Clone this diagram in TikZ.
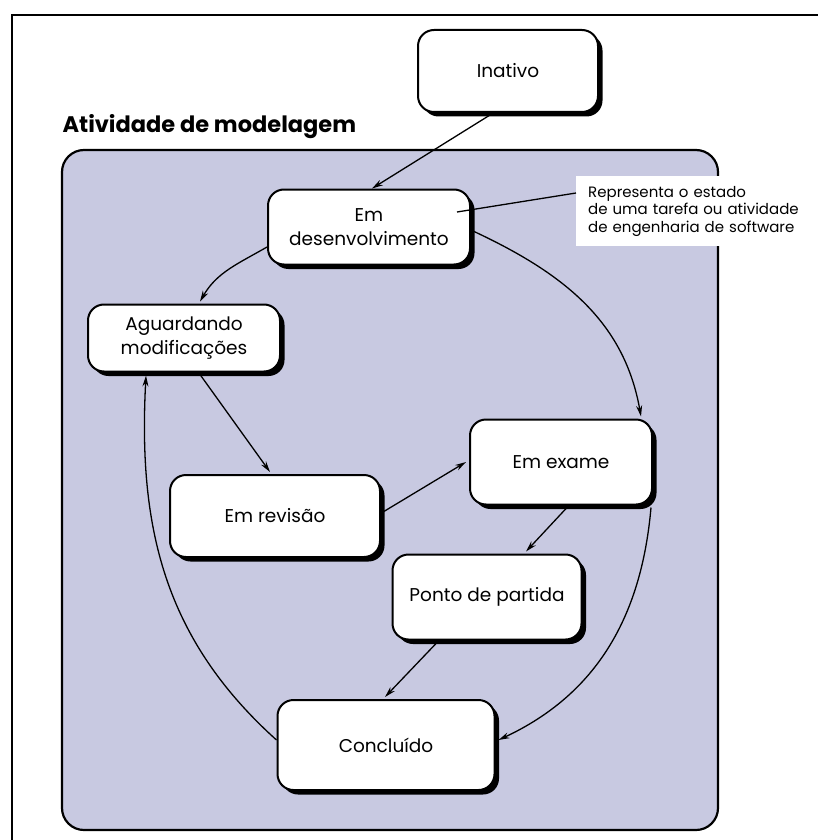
\documentclass[tikz,border=0pt]{standalone}
\usepackage{fontspec}
\setmainfont{Poppins}
\usetikzlibrary{arrows.meta,shadows,calc}
\definecolor{lav}{RGB}{200,201,225}
\tikzset{
  statebox/.style={draw, line width=2pt, fill=white, rounded corners=16pt, align=center,
    font=\fontsize{18.5}{24}\selectfont,
    drop shadow={shadow xshift=4.5pt, shadow yshift=-4.5pt, fill=black, opacity=1}},
  arr/.style={line width=1.3pt, -{Stealth[length=11pt,width=6pt]}},
}
\begin{document}
\begin{tikzpicture}[x=1pt,y=-1pt]
\useasboundingbox (0,0) rectangle (818,840);
\fill[white] (0,0) rectangle (818,840);
\draw[line width=2pt] (12,840) -- (12,15) -- (818,15);
\draw[fill=lav, line width=2.2pt, rounded corners=22pt] (62,150) rectangle (718,830);
\node[anchor=west, font=\fontsize{22.5}{25}\selectfont\bfseries] (title) at (59,127) {Atividade de modelagem};

\node[statebox, minimum width=180pt, minimum height=82pt] (inativo) at (508,71) {Inativo};
\node[statebox, minimum width=202pt, minimum height=75pt] (desenv) at (369,227) {Em\\desenvolvimento};
\node[statebox, minimum width=192pt, minimum height=67pt] (aguard) at (184,338) {Aguardando\\modificações};
\node[statebox, minimum width=210pt, minimum height=82pt] (revisao) at (275,516) {Em revisão};
\node[statebox, minimum width=182pt, minimum height=85pt] (exame) at (561,462) {Em exame};
\node[statebox, minimum width=189pt, minimum height=85pt] (ponto) at (487,597) {Ponto de partida};
\node[statebox, minimum width=217pt, minimum height=90pt] (concl) at (386,745) {Concluído};

\node[fill=white, anchor=north west, align=left, inner sep=0pt, minimum width=228pt, minimum height=70pt, text width=220pt,
  font=\fontsize{15}{17.5}\selectfont] (note) at (576,176)
  {\hspace*{8pt}Representa o estado\\\hspace*{8pt}de uma tarefa ou atividade\\\hspace*{8pt}de engenharia de software};
\coordinate (notein) at (457,212);
\draw[line width=1.3pt] (notein) -- ($(note.north west)+(0,17)$);

\draw[arr] ($(inativo.south)+(-18,2)$) -- ($(desenv.north)+(3,0)$);
\draw[arr] ($(desenv.west)+(0,20)$) to[out=-150,in=60] ($(aguard.north)+(16,-2)$);
\draw[arr] ($(desenv.east)+(2,4)$) to[out=-25,in=100] ($(exame.north east)+(-12,-2)$);
\draw[arr] ($(aguard.south)+(16,2)$) -- ($(revisao.north)+(-5,-2)$);
\draw[arr] ($(revisao.east)+(2,-4)$) -- ($(exame.west)+(-3,0)$);
\draw[arr] ($(exame.south)+(6,2)$) -- ($(ponto.north)+(39,-2)$);
\draw[arr] ($(ponto.south)+(-50,2)$) -- ($(concl.north)+(-1,-2)$);
\draw[arr] ($(exame.south east)+(-2,2)$) to[out=-95,in=25] ($(concl.east)+(3,-5)$);
\draw[arr] ($(concl.west)+(0,-5)$) to[out=138,in=-93] ($(aguard.south west)+(59,3)$);
\end{tikzpicture}
\end{document}
